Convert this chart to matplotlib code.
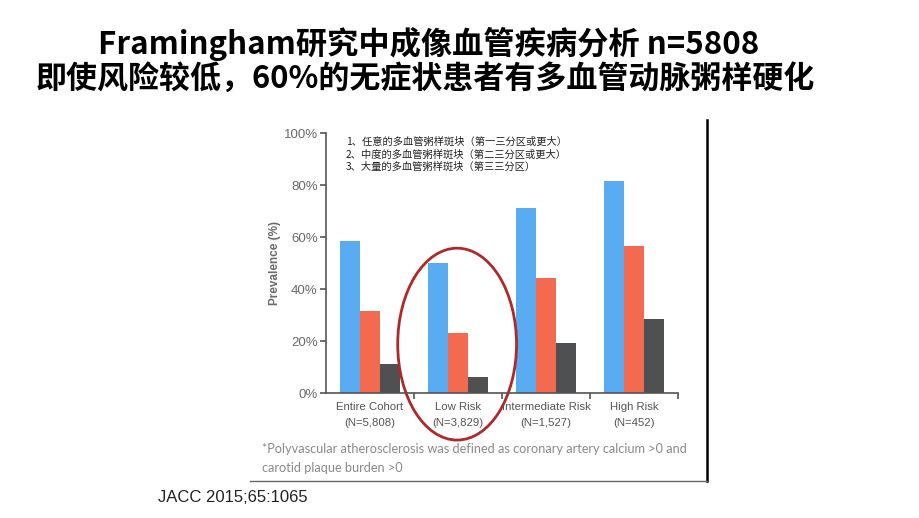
import matplotlib
matplotlib.use('Agg')
import matplotlib.pyplot as plt
import numpy as np
from matplotlib.patches import Ellipse
from matplotlib.lines import Line2D

plt.rcParams['font.family'] = ['Noto Sans CJK SC', 'DejaVu Sans']

categories = ['Entire Cohort', 'Low Risk', 'Intermediate Risk', 'High Risk']
n_labels = ['(N=5,808)', '(N=3,829)', '(N=1,527)', '(N=452)']
any_plaque = [58.5, 50.0, 71.3, 81.5]
moderate_plaque = [31.7, 23.2, 44.1, 56.5]
heavy_plaque = [11.2, 6.0, 19.3, 28.3]
yticks = [0, 20, 40, 60, 80, 100]
legend_lines = ['1、任意的多血管粥样斑块（第一三分区或更大）',
                '2、中度的多血管粥样斑块（第二三分区或更大）',
                '3、大量的多血管粥样斑块（第三三分区）']

W, H = 920, 518
fig = plt.figure(figsize=(W / 100, H / 100), dpi=100)

def fx(px):
    return px / W

def fy(py):
    return 1 - py / H

# titles
fig.text(fx(429), fy(44), 'Framingham研究中成像血管疾病分析 n=5808', ha='center', va='center',
         fontsize=22.5, fontweight='bold', color='black')
fig.text(fx(425), fy(79), '即使风险较低，60%的无症状患者有多血管动脉粥样硬化', ha='center', va='center',
         fontsize=22.3, fontweight='bold', color='black')

# axes
ax = fig.add_axes([fx(326), fy(393), (678 - 326) / W, (393 - 133) / H])
x = np.arange(len(categories)) + 0.5
w = 0.225
ax.bar(x - w, any_plaque, w, color='#5aacf2')
ax.bar(x, moderate_plaque, w, color='#f46a50')
ax.bar(x + w, heavy_plaque, w, color='#4f5052')
ax.set_xlim(0, 4)
ax.set_ylim(0, 100)
ax.set_yticks(yticks)
ax.set_yticklabels([f'{v}%' for v in yticks], fontsize=9.5, color='#6a6a6a', family=['Liberation Sans', 'DejaVu Sans'])
ax.set_xticks([1, 2, 3, 4])
ax.set_xticklabels([])
for s in ['top', 'right']:
    ax.spines[s].set_visible(False)
for s in ['left', 'bottom']:
    ax.spines[s].set_color('#555555')
    ax.spines[s].set_linewidth(1.2)
ax.tick_params(axis='both', colors='#555555', length=4, width=1.2)
ax.tick_params(axis='y', labelcolor='#6a6a6a', pad=2)
ax.set_ylabel('Prevalence (%)', fontsize=8.5, fontweight='bold', color='#6a6a6a',
              family=['Liberation Sans', 'DejaVu Sans'], labelpad=2)

for xi, cat, nl in zip(x, categories, n_labels):
    ax.text(xi, -3.5, cat, ha='center', va='top', fontsize=8.2, color='#555555',
            family=['Liberation Sans', 'DejaVu Sans'], clip_on=False)
    ax.text(xi, -9.5, nl, ha='center', va='top', fontsize=8.2, color='#555555',
            family=['Liberation Sans', 'DejaVu Sans'], clip_on=False)

# legend text
for i, line in enumerate(legend_lines):
    fig.text(fx(346), fy(142 + i * 12.5), line, ha='left', va='center', fontsize=7.4, color='#222222')

# red ellipse around Low Risk
ax.add_patch(Ellipse((1.49, 18.8), 1.35, 73.8, fill=False, edgecolor='#b02828', linewidth=2, clip_on=False))

# footnote
fig.text(fx(262), fy(449), '*Polyvascular atherosclerosis was defined as coronary artery calcium >0 and',
         ha='left', va='center', fontsize=9.2, color='#8a8a8a', family=['Lato', 'DejaVu Sans'])
fig.text(fx(262), fy(468), 'carotid plaque burden >0',
         ha='left', va='center', fontsize=9.2, color='#8a8a8a', family=['Lato', 'DejaVu Sans'])

# frame lines of the pasted figure
fig.add_artist(Line2D([fx(707), fx(707)], [fy(120), fy(481)], color='black', linewidth=1.8))
fig.add_artist(Line2D([fx(250), fx(707)], [fy(481), fy(481)], color='#666666', linewidth=1.0))

fig.text(fx(158), fy(498), 'JACC 2015;65:1065', ha='left', va='center', fontsize=12,
         color='#222222', family=['Liberation Sans', 'DejaVu Sans'])

fig.savefig('out.png', dpi=100)
